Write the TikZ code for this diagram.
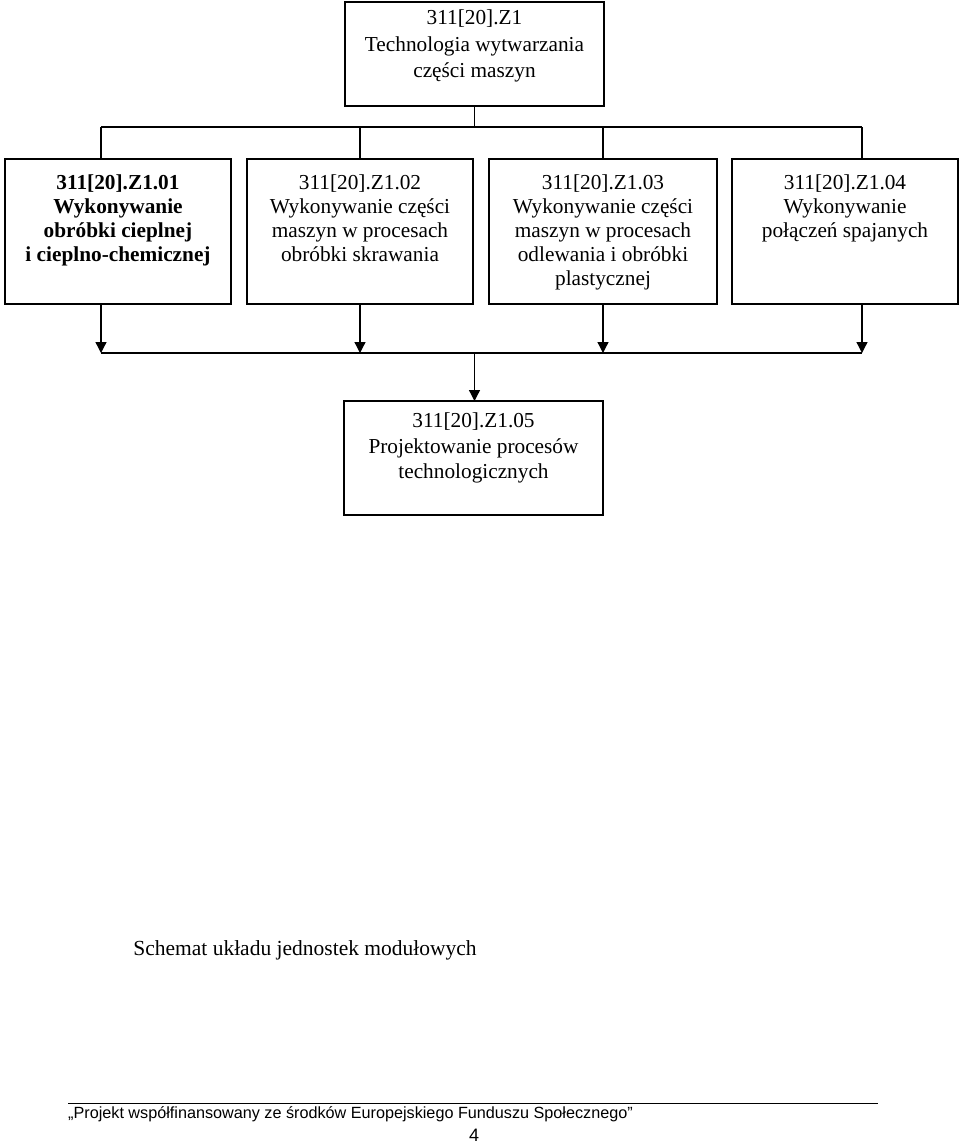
\documentclass[tikz,border=0pt]{standalone}
\usepackage{fontspec}
\setmainfont{Liberation Serif}
\newfontfamily\footfont{Liberation Sans}
\usetikzlibrary{arrows.meta}
\begin{document}
\begin{tikzpicture}[x=1pt,y=-1pt,
  box/.style={draw, line width=1.3pt, inner sep=0pt, outer sep=0pt},
  thickbox/.style={draw, line width=2.8pt, inner sep=0pt, outer sep=0pt},
  txt/.style={font=\fontsize{21.3}{24}\selectfont, align=center, inner sep=0pt, anchor=north},
  conn/.style={line width=1.3pt},
  arr/.style={line width=1.3pt, -{Triangle[length=11pt,width=11pt]}}]
\useasboundingbox (0,0) rectangle (960,1143);
% top box
\node[box, minimum width=259pt, minimum height=104pt] (top) at (474.5,54) {};
\node[txt, font=\fontsize{21.3}{26.5}\selectfont] (t0) at (474.5,10) {311[20].Z1\\Technologia wytwarzania\\części maszyn};
% second row
\node[thickbox, minimum width=226pt, minimum height=145pt] (b1) at (118,231.5) {};
\node[box, minimum width=226pt, minimum height=145pt] (b2) at (360,231.5) {};
\node[box, minimum width=228pt, minimum height=145pt] (b3) at (603,231.5) {};
\node[box, minimum width=226pt, minimum height=145pt] (b4) at (845,231.5) {};
\node[txt, font=\bfseries\fontsize{21.3}{24}\selectfont] (t1) at (118,174.5) {311[20].Z1.01\\Wykonywanie\\obróbki cieplnej\\i cieplno-chemicznej};
\node[txt] (t2) at (360,174.5) {311[20].Z1.02\\Wykonywanie części\\maszyn w procesach\\obróbki skrawania};
\node[txt] (t3) at (603,174.5) {311[20].Z1.03\\Wykonywanie części\\maszyn w procesach\\odlewania i obróbki\\plastycznej};
\node[txt] (t4) at (845,174.5) {311[20].Z1.04\\Wykonywanie\\połączeń spajanych};
% bottom box
\node[box, minimum width=259pt, minimum height=114pt] (b5) at (473.5,458) {};
\node[txt, font=\fontsize{21.3}{25.5}\selectfont] (t5) at (473.5,413) {311[20].Z1.05\\Projektowanie procesów\\technologicznych};
% upper connectors
\coordinate (j0) at (474.5,127);
\coordinate (c1) at (101,127);
\coordinate (c4) at (862,127);
\draw[conn] (top.south) -- (j0);
\draw[conn] (c1) -- (c4);
\draw[conn] (c1) -- (c1 |- b1.north);
\draw[conn] (b2.north |- c1) -- (b2.north);
\draw[conn] (b3.north |- c1) -- (b3.north);
\draw[conn] (c4) -- (c4 |- b4.north);
% lower connectors
\coordinate (d1) at (101,353);
\coordinate (d4) at (862,353);
\coordinate (dm) at (474.5,353);
\draw[arr] (b1.south -| d1) -- (d1);
\draw[arr] (b2.south) -- (b2.south |- d1);
\draw[arr] (b3.south) -- (b3.south |- d1);
\draw[arr] (b4.south -| d4) -- (d4);
\draw[conn] (d1) -- (d4);
\draw[arr] (dm) -- (b5.north -| dm);
% caption
\node[font=\fontsize{21.5}{24}\selectfont, inner sep=0pt] (cap) at (305,950) {Schemat układu jednostek modułowych};
% footer
\coordinate (f1) at (68,1103);
\coordinate (f2) at (878,1103);
\draw[line width=0.9pt] (f1) -- (f2);
\node[font=\footfont\fontsize{16.2}{18}\selectfont, inner sep=0pt, anchor=base west] (foot) at (68,1118) {„Projekt współfinansowany ze środków Europejskiego Funduszu Społecznego”};
\node[font=\footfont\fontsize{18}{20}\selectfont, inner sep=0pt, anchor=base] (pg) at (474,1141) {4};
\end{tikzpicture}
\end{document}
